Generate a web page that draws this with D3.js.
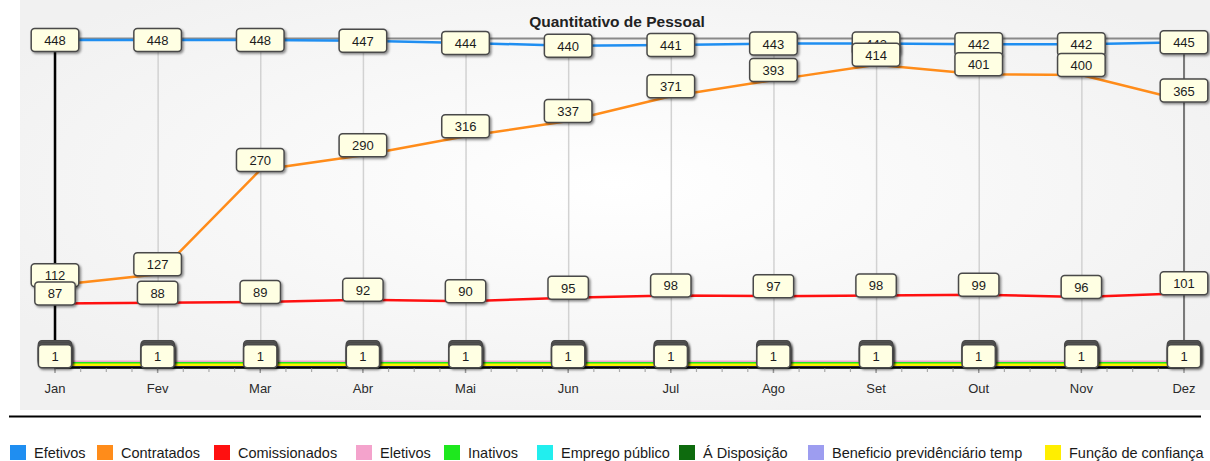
<meta charset="utf-8">
<script src="https://cdn.jsdelivr.net/npm/d3@7/dist/d3.min.js"></script>
<style>
  body { margin: 0; background: #fff; }
  svg { display: block; font-family: "Liberation Sans", Arial, sans-serif; }
</style>
<div id="chart"></div>
<script>
// months and series values
var months = ["Jan", "Fev", "Mar", "Abr", "Mai", "Jun", "Jul", "Ago", "Set", "Out", "Nov", "Dez"];
var efetivos      = [448, 448, 448, 447, 444, 440, 441, 443, 443, 442, 442, 445];
var contratados   = [112, 127, 270, 290, 316, 337, 371, 393, 414, 401, 400, 365];
var comissionados = [87, 88, 89, 92, 90, 95, 98, 97, 98, 99, 96, 101];
var eletivos      = [1, 1, 1, 1, 1, 1, 1, 1, 1, 1, 1, 1];
var inativos      = [1, 1, 1, 1, 1, 1, 1, 1, 1, 1, 1, 1];
var empregoPublico = [0, 0, 0, 0, 0, 0, 0, 0, 0, 0, 0, 0];
var disposicao    = [0, 0, 0, 0, 0, 0, 0, 0, 0, 0, 0, 0];
var beneficio     = [0, 0, 0, 0, 0, 0, 0, 0, 0, 0, 0, 0];
var funcao        = [1, 1, 1, 1, 1, 1, 1, 1, 1, 1, 1, 1];

var seriesNames = ["Efetivos", "Contratados", "Comissionados", "Eletivos", "Inativos",
                   "Emprego público", "Á Disposição", "Beneficio previdênciário temp", "Função de confiança"];
var seriesValues = [efetivos, contratados, comissionados, eletivos, inativos,
                    empregoPublico, disposicao, beneficio, funcao];
var seriesColors = ["#1f8ef1", "#ff8c1a", "#ff1010", "#f4a3cc", "#1ee81e",
                    "#22eeee", "#0e6b0e", "#9d9df0", "#ffee00"];
// small pixel lanes so the overlapping low lines stay visible (like the original)
var lineLane  = [0, 0, 0, -4.5, -3, 0, 0, 0, -1.5];
// legend x positions
var legendX = [10, 97, 214, 356, 444, 537, 679, 808, 1045];

var W = 1210, H = 461;
var plotTop = 38.5, plotBottom = 367;

var svg = d3.select("#chart").append("svg")
  .attr("width", W).attr("height", H);

var defs = svg.append("defs");
var grad = defs.append("radialGradient").attr("id", "bg")
  .attr("cx", "50%").attr("cy", "45%").attr("r", "60%");
grad.append("stop").attr("offset", "0%").attr("stop-color", "#ffffff");
grad.append("stop").attr("offset", "100%").attr("stop-color", "#f1f1f1");

var shadow = defs.append("filter").attr("id", "shadow")
  .attr("x", "-20%").attr("y", "-20%").attr("width", "150%").attr("height", "160%");
shadow.append("feDropShadow").attr("dx", 1.5).attr("dy", 1.5)
  .attr("stdDeviation", 1).attr("flood-color", "#000").attr("flood-opacity", 0.45);

// background
svg.append("rect").attr("x", 20).attr("y", 0).attr("width", W - 20).attr("height", 410)
  .attr("fill", "url(#bg)");

var x = d3.scalePoint().domain(months).range([55, 1184]);
var y = d3.scaleLinear().domain([0, 450]).range([plotBottom, plotTop]);

// vertical gridlines
svg.append("g")
  .attr("transform", "translate(0," + plotBottom + ")")
  .call(d3.axisBottom(x).tickSize(-(plotBottom - plotTop)).tickFormat(""))
  .call(function(g) {
    g.select(".domain").remove();
    g.selectAll(".tick line").attr("stroke", "#d2d2d2").attr("stroke-width", 1.5);
  });

// plot frame: top and right in grey, left in black
svg.append("line").attr("x1", x("Jan")).attr("x2", x("Dez"))
  .attr("y1", plotTop).attr("y2", plotTop)
  .attr("stroke", "#8a8a8a").attr("stroke-width", 2);
svg.append("line").attr("x1", x("Dez")).attr("x2", x("Dez"))
  .attr("y1", plotTop).attr("y2", plotBottom)
  .attr("stroke", "#7a7a7a").attr("stroke-width", 2);

// series lines
var line = d3.line()
  .x(function(d, i) { return x(months[i]); });

seriesValues.forEach(function(vals, s) {
  svg.append("path")
    .datum(vals)
    .attr("fill", "none")
    .attr("stroke", seriesColors[s])
    .attr("stroke-width", 2.5)
    .attr("d", line.y(function(d) { return y(d) + lineLane[s]; }));
});

// axes lines
svg.append("line").attr("x1", x("Jan")).attr("x2", x("Jan"))
  .attr("y1", plotTop).attr("y2", plotBottom + 1)
  .attr("stroke", "#000").attr("stroke-width", 2.5);
svg.append("line").attr("x1", x("Jan") - 1).attr("x2", x("Dez") + 1)
  .attr("y1", plotBottom + 0.5).attr("y2", plotBottom + 0.5)
  .attr("stroke", "#000").attr("stroke-width", 2.5);

// x ticks (major + 3 minor)
var step = x.step();
var tickG = svg.append("g");
months.forEach(function(m, i) {
  tickG.append("line").attr("x1", x(m)).attr("x2", x(m))
    .attr("y1", plotBottom + 1.5).attr("y2", plotBottom + 6)
    .attr("stroke", "#999").attr("stroke-width", 1.5);
  if (i < months.length - 1) {
    for (var k = 1; k < 4; k++) {
      var xx = x(m) + step * k / 4;
      tickG.append("line").attr("x1", xx).attr("x2", xx)
        .attr("y1", plotBottom + 1.5).attr("y2", plotBottom + 5)
        .attr("stroke", "#aaa").attr("stroke-width", 1.2);
    }
  }
});

svg.append("g").selectAll("text")
  .data(months).enter().append("text")
  .attr("x", function(d) { return x(d); })
  .attr("y", 393)
  .attr("text-anchor", "middle")
  .attr("font-size", "13px")
  .attr("fill", "#2b2b2b")
  .text(function(d) { return d; });

// value labels
// labels that land on the same spot (the low series) get stacked: the hidden
// ones only show as a dark strip above the front one, as in the original.
// Series order is kept, so later series sit on top (87 over 112, 414 over 443)
var labelG = svg.append("g");
var bh = 23;
months.forEach(function(m, i) {
  var groups = new Map();
  seriesValues.forEach(function(vals, s) {
    var v = vals[i];
    if (v === 0) return;
    if (!groups.has(v)) groups.set(v, []);
    groups.get(v).push(s);
  });
  groups.forEach(function(list, v) {
    var txt = String(v);
    var bw = txt.length * 7.2 + 26;
    var py = y(v);
    var top = py + 1.5 - bh;
    if (top < plotTop) top = py - bh / 2;
    var n = list.length;
    list.forEach(function(s, k) {
      var back = k < n - 1;
      var t = top - (n - 1 - k) * 2;
      labelG.append("rect")
        .attr("x", x(m) - bw / 2).attr("y", t)
        .attr("width", bw).attr("height", bh)
        .attr("rx", 3.5)
        .attr("fill", back ? "#5c5c5c" : "#ffffe3")
        .attr("stroke", "#4a4a4a").attr("stroke-width", 1.5)
        .attr("filter", "url(#shadow)");
    });
    labelG.append("text")
      .attr("x", x(m)).attr("y", top + bh / 2 + 5)
      .attr("text-anchor", "middle")
      .attr("font-size", "13px")
      .attr("fill", "#1c1c1c")
      .text(txt);
  });
});

// title
svg.append("text")
  .attr("x", 617).attr("y", 27)
  .attr("text-anchor", "middle")
  .attr("font-size", "15.5px").attr("font-weight", "bold")
  .attr("fill", "#222")
  .text("Quantitativo de Pessoal");

// separator
svg.append("line").attr("x1", 9).attr("x2", 1201)
  .attr("y1", 416.5).attr("y2", 416.5)
  .attr("stroke", "#000").attr("stroke-width", 2);

// legend
var legend = svg.append("g");
seriesNames.forEach(function(name, s) {
  legend.append("rect")
    .attr("x", legendX[s]).attr("y", 445).attr("width", 16).attr("height", 15)
    .attr("fill", seriesColors[s]);
  legend.append("text")
    .attr("x", legendX[s] + 24).attr("y", 458)
    .attr("font-size", "14.5px")
    .attr("fill", "#1a1a1a")
    .text(name);
});
</script>
